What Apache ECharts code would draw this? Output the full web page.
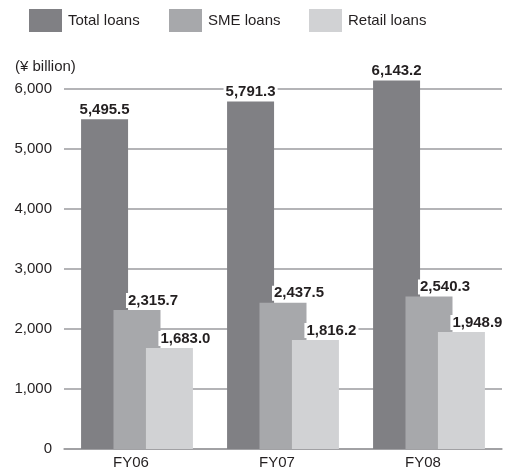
<!DOCTYPE html>
<html>
<head>
<meta charset="utf-8">
<script src="https://cdn.jsdelivr.net/npm/echarts@6/dist/echarts.min.js"></script>
<style>
  html, body { margin: 0; padding: 0; background: #fff; }
  #chart { width: 505px; height: 473px; }
</style>
</head>
<body>
<div id="chart"></div>
<script>
// Fiscal years and loan balances (¥ billion)
const categories = ['FY06', 'FY07', 'FY08'];
const totalLoans = [5495.5, 5791.3, 6143.2];
const smeLoans = [2315.7, 2437.5, 2540.3];
const retailLoans = [1683.0, 1816.2, 1948.9];
const seriesNames = ['Total loans', 'SME loans', 'Retail loans'];
const yTicks = [0, 1000, 2000, 3000, 4000, 5000, 6000];

const FONT = '"Liberation Sans", Arial, Helvetica, sans-serif';
const colors = ['#808084', '#a7a8ab', '#d1d2d4'];

function fmt(v) {
  return v.toLocaleString('en-US', { minimumFractionDigits: 1, maximumFractionDigits: 1 });
}

function valueLabel(offsetX) {
  return {
    show: true,
    position: 'top',
    distance: 2,
    offset: [offsetX, 0],
    fontFamily: FONT,
    fontSize: 15,
    fontWeight: 'bold',
    color: '#231f20',
    backgroundColor: '#fff',
    padding: [0, 2, 0, 2],
    formatter: p => fmt(p.value)
  };
}

const chart = echarts.init(document.getElementById('chart'), null, { renderer: 'canvas' });

function legendAt(name, left) {
  return {
    data: [name],
    left: left,
    top: 9,
    padding: 0,
    itemWidth: 33,
    itemHeight: 23,
    itemGap: 0,
    icon: 'rect',
    selectedMode: false,
    textStyle: { fontFamily: FONT, fontSize: 15, color: '#231f20', padding: [0, 0, 0, 1] }
  };
}

chart.setOption({
  animation: false,
  backgroundColor: '#fff',
  color: colors,
  legend: [
    legendAt(seriesNames[0], 29),
    legendAt(seriesNames[1], 169),
    legendAt(seriesNames[2], 309)
  ],
  graphic: [{
    type: 'text',
    left: 15,
    top: 59,
    style: { text: '(¥ billion)', font: '15px ' + FONT, fill: '#231f20' }
  }],
  grid: { left: 64, right: 3, top: 89, bottom: 24, containLabel: false },
  xAxis: {
    type: 'category',
    data: categories,
    axisLine: { show: true, lineStyle: { color: '#9b9b9f', width: 1.5 } },
    axisTick: { show: false },
    axisLabel: {
      fontFamily: FONT, fontSize: 15, color: '#231f20', margin: 6,
      padding: [0, 12, 0, 0]
    }
  },
  yAxis: {
    type: 'value',
    min: yTicks[0],
    max: yTicks[yTicks.length - 1],
    interval: 1000,
    axisLine: { show: false },
    axisTick: { show: false },
    splitLine: { show: true, lineStyle: { color: '#9b9b9f', width: 1.5 } },
    axisLabel: {
      fontFamily: FONT, fontSize: 15, color: '#231f20', margin: 12,
      formatter: v => v.toLocaleString('en-US')
    }
  },
  series: [
    {
      name: seriesNames[0], type: 'bar', data: totalLoans,
      barWidth: 47, barGap: '-31%', clip: false,
      label: valueLabel(0), z: 2
    },
    {
      name: seriesNames[1], type: 'bar', data: smeLoans,
      barWidth: 47, barGap: '-31%', clip: false,
      label: valueLabel(16), z: 3
    },
    {
      name: seriesNames[2], type: 'bar', data: retailLoans,
      barWidth: 47, barGap: '-31%', clip: false,
      label: valueLabel(16), z: 4
    }
  ]
});
</script>
</body>
</html>
